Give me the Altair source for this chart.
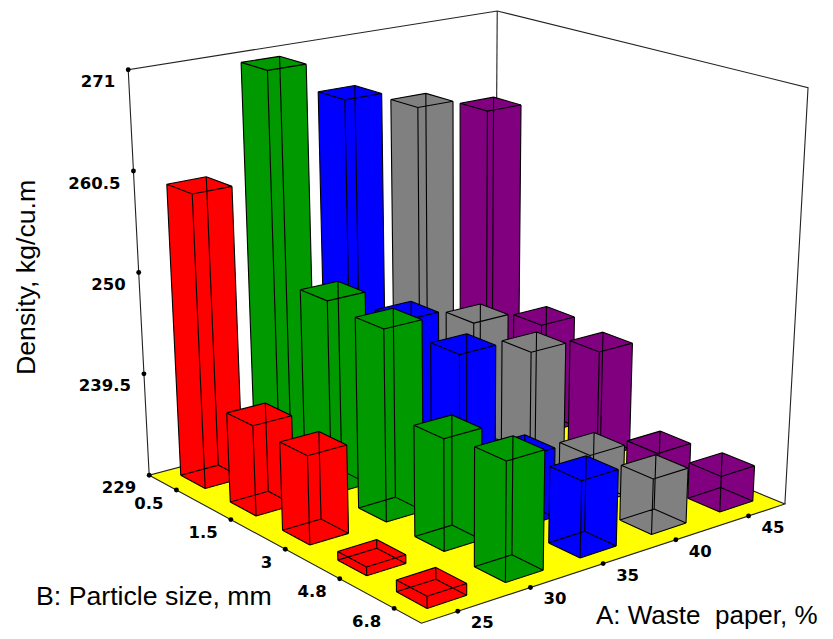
import numpy as np
import pandas as pd
import altair as alt

# --- chart values -----------------------------------------------------------
waste_paper = ["25", "30", "35", "40", "45"]
particle_size = ["0.5", "1.5", "3", "4.8", "6.8"]
density_ticks = [229, 239.5, 250, 260.5, 271]
colors = ["#FF0000", "#009900", "#0000FF", "#808080", "#800080"]
density_05 = [259.7, 270.5, 266.3, 264.2, 262.5]
density_15 = [238.5, 249.4, 245.5, 243.4, 241.3]
density_30 = [238.2, 248.9, 244.4, 242.7, 240.8]
density_48 = [229.9, 240.5, 236.3, 234.4, 232.4]
density_68 = [230.2, 241.1, 236.9, 234.8, 232.8]
rows = [density_05, density_15, density_30, density_48, density_68]

# --- camera: 3D box (A index, B index, height) to page pixels -----------------
corner_refs = [((0, 0, 0), (149, 472)), ((0, 5, 0), (421.3, 626)), ((5, 5, 0), (785, 500.7)),
               ((5, 0, 0), (495, 387)), ((0, 0, 1), (128.5, 70.5)), ((5, 0, 1), (497, 9.5)),
               ((5, 5, 1), (808, 88.5))]
base_refs = [((4, 4), (720, 510)), ((3, 4), (651.7, 533.3)), ((2, 4), (580.7, 557.3)),
             ((1, 4), (506, 583.3)), ((0, 4), (427.3, 611)), ((0, 3), (366.7, 576.5)),
             ((0, 2), (310, 545.3)), ((0, 1), (256.7, 514.3)), ((0, 0), (205.3, 485.7)),
             ((1, 3), (444, 551))]
HALF = 0.25
refs = corner_refs + [((i + .5 - HALF, j + .5 + HALF, 0), uv) for (i, j), uv in base_refs]


def fit(pairs):
    A, r = [], []
    for (X, Y, Z), (u, v) in pairs:
        A.append([X, Y, Z, 1, 0, 0, 0, 0, -u * X, -u * Y, -u * Z]); r.append(u)
        A.append([0, 0, 0, 0, X, Y, Z, 1, -v * X, -v * Y, -v * Z]); r.append(v)
    s = np.linalg.lstsq(np.array(A, float), np.array(r, float), rcond=None)[0]
    return np.append(s, 1).reshape(3, 4)


P_bars = fit(refs)
P_box = fit(corner_refs)


def proj(a, b, h, P=P_bars):
    p = P @ np.array([a, b, h, 1.0])
    return [float(p[0] / p[2]), float(p[1] / p[2])]


def box(a, b, h):
    return proj(a, b, h, P_box)


def height(d):
    return (d - density_ticks[0]) / (density_ticks[-1] - density_ticks[0])


def hull(points):
    pts = sorted(map(tuple, points))
    def half(seq):
        out = []
        for q in seq:
            while len(out) > 1 and ((out[-1][0] - out[-2][0]) * (q[1] - out[-2][1])
                                    - (out[-1][1] - out[-2][1]) * (q[0] - out[-2][0])) <= 0:
                out.pop()
            out.append(q)
        return out[:-1]
    h = half(pts) + half(pts[::-1])
    return [list(q) for q in h + h[:1]]


def feature(geom, fill, stroke):
    return {"type": "Feature", "geometry": geom, "properties": {"fill": fill, "stroke": stroke}}


LINE = "#000000"
FRAME = "#222222"
L, F, R, B = box(0, 0, 0), box(0, 5, 0), box(5, 5, 0), box(5, 0, 0)
TL, TB, TR = box(0, 0, 1), box(5, 0, 1), box(5, 5, 1)

features = [
    feature({"type": "LineString", "coordinates": [L, TL, TB, TR, R]}, "none", FRAME),
    feature({"type": "LineString", "coordinates": [B, TB]}, "none", FRAME),
    feature({"type": "Polygon", "coordinates": [[L, F, R, B, L]]}, "#FFFF00", FRAME),
]

for j in range(5):
    for i in range(4, -1, -1):
        a0, a1 = i + .5 - HALF, i + .5 + HALF
        b0, b1 = j + .5 - HALF, j + .5 + HALF
        h = height(rows[j][i])
        c = {(p, q, r): proj(a, b, z)
             for p, a in enumerate((a0, a1)) for q, b in enumerate((b0, b1)) for r, z in enumerate((0, h))}
        features.append(feature({"type": "Polygon", "coordinates": [hull(c.values())]}, colors[i], "none"))
        edges = []
        for k in c:
            for axis in range(3):
                if k[axis] == 0:
                    k2 = tuple(1 if n == axis else k[n] for n in range(3))
                    edges.append([c[k], c[k2]])
        features.append(feature({"type": "MultiLineString", "coordinates": edges}, "none", LINE))

# --- tick positions ----------------------------------------------------------
def lerp(p, q, t):
    return [p[0] + (q[0] - p[0]) * t, p[1] + (q[1] - p[1]) * t]


tz = pd.DataFrame([{"u": lerp(L, TL, height(d))[0], "v": lerp(L, TL, height(d))[1], "t": f"{d:g}"} for d in density_ticks])
tb = pd.DataFrame([{"u": lerp(L, F, (n + .5) / 5)[0], "v": lerp(L, F, (n + .5) / 5)[1], "t": s} for n, s in enumerate(particle_size)])
ta = pd.DataFrame([{"u": lerp(F, R, (n + .5) / 5)[0], "v": lerp(F, R, (n + .5) / 5)[1], "t": s} for n, s in enumerate(waste_paper)])

W, H = 817, 623
xs = alt.X("u:Q", axis=None, scale=alt.Scale(domain=[8, 8 + W], range=[0, W], zero=False, nice=False))
ys = alt.Y("v:Q", axis=None, scale=alt.Scale(domain=[8, 8 + H], range=[0, H], zero=False, nice=False))

shapes = alt.Chart(alt.Data(values=features)).mark_geoshape(strokeWidth=1.1).encode(
    fill=alt.Fill("properties.fill:N", scale=None),
    stroke=alt.Stroke("properties.stroke:N", scale=None),
).project(type="identity", scale=1, translate=[-8, -8])


def tick_layer(df, align, dx, dy):
    dots = alt.Chart(df).mark_circle(size=24, color="black", opacity=1).encode(x=xs, y=ys)
    text = alt.Chart(df).mark_text(font="DejaVu Sans", fontWeight="bold", fontSize=16.5, color="black",
                                   align=align, baseline="middle", dx=dx, dy=dy).encode(x=xs, y=ys, text="t:N")
    return dots + text


def title(t, x, y, size, angle=0):
    return alt.Chart(pd.DataFrame({"t": [t]})).mark_text(
        font="Liberation Sans", fontSize=size, color="black", align="left", baseline="alphabetic", angle=angle,
    ).encode(x=alt.value(x - 8), y=alt.value(y - 8), text="t:N")


chart = alt.layer(
    shapes,
    tick_layer(tz, "right", -13, 12.5),
    tick_layer(tb, "right", -13, 13.5),
    tick_layer(ta, "left", 13, 12),
    title("Density, kg/cu.m", 34.5, 375, 26.7, angle=270),
    title("B: Particle size, mm", 36, 605, 26.7),
    title("A: Waste \u00a0paper, %", 596, 624, 26),
).properties(width=W, height=H, padding=0, background="white",
             autosize=alt.AutoSizeParams(type="none", contains="content")
).configure_view(strokeOpacity=0)

chart.save("out.html", embed_options={"renderer": "svg", "actions": False})
